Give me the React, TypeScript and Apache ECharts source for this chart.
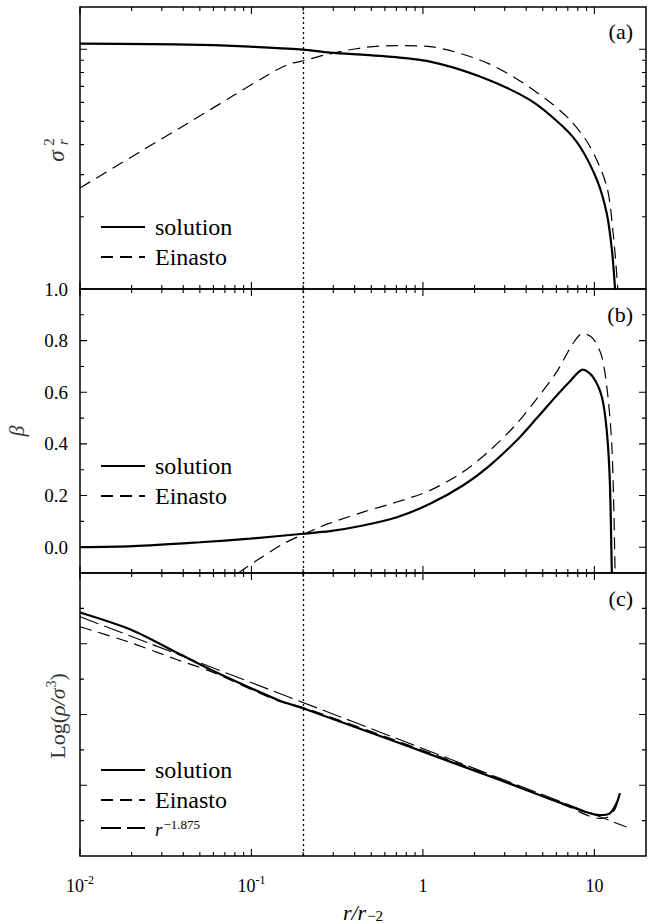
import React, { useEffect, useRef } from "react";
import * as echarts from "echarts";

// ---------- axis ranges & tick labels ----------
const X_MIN = 0.01;
const X_MAX = 20;
const X_MAJOR = [0.01, 0.1, 1, 10];
const X_MAJOR_LABELS = ["{b|10}{s|-2}", "{b|10}{s|-1}", "{b|1}", "{b|10}"];
const X_MINOR = [
  0.02, 0.03, 0.04, 0.05, 0.06, 0.07, 0.08, 0.09,
  0.2, 0.3, 0.4, 0.5, 0.6, 0.7, 0.8, 0.9,
  2, 3, 4, 5, 6, 7, 8, 9,
];
const DOTTED_R = 0.2;

const A_MIN = 1;
const A_MAX = 15;
const A_MAJOR = [10];
const A_MINOR = [2, 3, 4, 5, 6, 7, 8, 9];

const B_MIN = -0.1;
const B_MAX = 1.0;
const B_MAJOR = [0, 0.2, 0.4, 0.6, 0.8, 1.0];
const B_MINOR = [0.1, 0.3, 0.5, 0.7, 0.9];

const C_MIN = 0;
const C_MAX = 8;
const C_MAJOR = [2, 4, 6];
const C_MINOR = [1, 3, 5, 7];

// ---------- panel (a): sigma_r^2 ----------
const A_SOL_R = [0.01, 0.0256, 0.05, 0.098, 0.2, 0.287, 0.561, 1.1, 2.15, 4.2, 6.55, 8.23, 10.35, 11.8, 12.65, 13.2, 13.4];
const A_SOL_V = [10.55, 10.5, 10.42, 10.25, 9.96, 9.68, 9.38, 8.88, 7.69, 6.15, 4.76, 3.93, 2.85, 2.07, 1.46, 1.0, 0.8];
const A_EIN_R = [0.01, 0.0233, 0.0423, 0.078, 0.117, 0.161, 0.2, 0.268, 0.447, 0.705, 1.1, 2.15, 3.35, 5.28, 7.19, 9.42, 11.8, 12.8, 13.7, 13.9];
const A_EIN_V = [2.64, 3.8, 4.9, 6.39, 7.61, 8.6, 8.94, 9.47, 10.15, 10.35, 10.25, 9.02, 7.69, 6.15, 5.08, 3.93, 2.68, 1.77, 1.0, 0.8];

// ---------- panel (b): beta ----------
const B_SOL_R = [0.01, 0.0204, 0.05, 0.098, 0.2, 0.287, 0.447, 0.705, 1.1, 1.71, 2.46, 3.53, 4.62, 6.04, 7.19, 8.57, 9.8, 11.06, 11.8, 12.3, 12.65, 12.8];
const B_SOL_V = [0.0, 0.004, 0.019, 0.033, 0.052, 0.062, 0.084, 0.116, 0.168, 0.239, 0.317, 0.414, 0.5, 0.588, 0.642, 0.688, 0.66, 0.582, 0.453, 0.259, -0.1, -0.2];
const B_EIN_R = [0.0837, 0.107, 0.153, 0.2, 0.251, 0.287, 0.447, 0.705, 1.1, 1.71, 2.46, 3.53, 4.62, 6.04, 7.5, 8.57, 9.8, 11.06, 12.0, 12.65, 13.0, 13.2];
const B_EIN_V = [-0.1, -0.052, 0.013, 0.049, 0.078, 0.093, 0.136, 0.175, 0.22, 0.291, 0.375, 0.479, 0.575, 0.68, 0.789, 0.828, 0.809, 0.737, 0.582, 0.388, 0.13, -0.1];

// ---------- panel (c): Log(rho/sigma^3) ----------
const C_SOL_R = [0.01, 0.02, 0.0373, 0.0583, 0.1428, 0.2, 0.735, 2.81, 6.89, 10.76, 12.3, 13.46, 14.1];
const C_SOL_V = [6.883, 6.389, 5.73, 5.258, 4.41, 4.175, 3.186, 2.148, 1.442, 1.159, 1.207, 1.49, 1.772];
const C_EIN_R = [0.01, 0.019, 0.0373, 0.0583, 0.1428, 0.2, 0.735, 2.81, 6.89, 10.76, 12.0, 13.2, 13.9];
const C_EIN_V = [6.482, 6.058, 5.541, 5.21, 4.382, 4.198, 3.223, 2.176, 1.414, 1.065, 1.102, 1.329, 1.668];
const C_POW_R = [0.01, 15.4];
const C_POW_V = [6.765, 0.82];

const SERIES_NAMES = ["solution", "Einasto", "r^-1.875"];

const SERIF = "Liberation Serif, Times New Roman, DejaVu Serif, serif";

const pairs = (xs: number[], ys: number[]) => xs.map((x, i) => [x, ys[i]]);
const lg = (v: number) => Math.log10(v);

const CHART_W = 659;
const CHART_H = 923;
const PANELS = [
  { left: 80, right: 13, top: 7, height: 282 },
  { left: 80, right: 13, top: 289, height: 284 },
  { left: 80, right: 13, top: 573, height: 283 },
];
const PLOT_W = CHART_W - 80 - 13;

const Y_RANGES = [
  { min: A_MIN, max: A_MAX, major: A_MAJOR, minor: A_MINOR, log: true },
  { min: B_MIN, max: B_MAX, major: B_MAJOR, minor: B_MINOR, log: false },
  { min: C_MIN, max: C_MAX, major: C_MAJOR, minor: C_MINOR, log: false },
];

const MAJOR_LEN = 7;
const MINOR_LEN = 4;
const GAP = ["-", "-"];

function labelAxis(gridIndex: number, position: string, min: number, max: number, label?: any) {
  return {
    type: "value",
    gridIndex,
    position,
    min,
    max,
    silent: true,
    axisLine: { show: false, onZero: false },
    splitLine: { show: false },
    axisTick: { show: false },
    axisLabel: label ? label : { show: false },
    axisPointer: { show: false },
  };
}

// Tick marks as broken polylines in each panel's own data coordinates.
function tickData(p: number) {
  const yr = Y_RANGES[p];
  const H = PANELS[p].height;
  const yStep = (from: number, px: number) =>
    yr.log ? from * Math.pow(10, (px * (lg(yr.max) - lg(yr.min))) / H) : from + (px * (yr.max - yr.min)) / H;
  const xStep = (from: number, px: number) => from * Math.pow(10, (px * (lg(X_MAX) - lg(X_MIN))) / PLOT_W);
  const xs: any[] = [];
  const xt: [number, number][] = [
    ...X_MAJOR.map((v) => [v, MAJOR_LEN] as [number, number]),
    ...X_MINOR.map((v) => [v, MINOR_LEN] as [number, number]),
  ];
  for (const [v, len] of xt) {
    xs.push([v, yr.min], [v, yStep(yr.min, len)], GAP);
    xs.push([v, yr.max], [v, yStep(yr.max, -len)], GAP);
  }
  const ys: any[] = [];
  const yt: [number, number][] = [
    ...yr.major.map((v) => [v, MAJOR_LEN] as [number, number]),
    ...yr.minor.map((v) => [v, MINOR_LEN] as [number, number]),
  ];
  for (const [v, len] of yt) {
    ys.push([X_MIN, v], [xStep(X_MIN, len), v], GAP);
    ys.push([X_MAX, v], [xStep(X_MAX, -len), v], GAP);
  }
  return { xs, ys };
}

function buildOption() {
  const grids: any[] = [];
  const xAxes: any[] = [];
  const yAxes: any[] = [];
  const xDataIdx: number[] = [];
  const yDataIdx: number[] = [];

  for (let p = 0; p < 3; p++) {
    const g0 = grids.length;
    grids.push({ ...PANELS[p], show: true, borderColor: "#000", borderWidth: 1.5, backgroundColor: "transparent" });
    grids.push({ ...PANELS[p], show: false });
    const gLab = g0 + 1;

    xDataIdx.push(xAxes.length);
    xAxes.push({ type: "log", logBase: 10, gridIndex: g0, min: X_MIN, max: X_MAX, show: false, axisLine: { show: false, onZero: false } });
    yDataIdx.push(yAxes.length);
    if (p === 0) {
      yAxes.push({ type: "log", logBase: 10, gridIndex: g0, min: A_MIN, max: A_MAX, show: false, axisLine: { show: false, onZero: false } });
    } else {
      yAxes.push({ type: "value", gridIndex: g0, min: Y_RANGES[p].min, max: Y_RANGES[p].max, show: false, axisLine: { show: false, onZero: false } });
    }

    const bottomLabel =
      p === 2
        ? {
            show: true,
            customValues: X_MAJOR.map(lg),
            margin: 17,
            formatter: (v: number) => {
              const i = X_MAJOR.findIndex((m) => Math.abs(lg(m) - v) < 1e-6);
              return i >= 0 ? X_MAJOR_LABELS[i] : "";
            },
            rich: {
              b: { fontFamily: SERIF, fontSize: 18, color: "#000", verticalAlign: "bottom", lineHeight: 22 },
              s: { fontFamily: SERIF, fontSize: 12, color: "#000", verticalAlign: "bottom", lineHeight: 22, padding: [0, 0, 9, 0] },
            },
          }
        : undefined;
    xAxes.push(labelAxis(gLab, "bottom", lg(X_MIN), lg(X_MAX), bottomLabel));

    const yr = Y_RANGES[p];
    const leftLabel =
      p === 1
        ? {
            show: true,
            customValues: B_MAJOR,
            margin: 12,
            formatter: (v: number) => v.toFixed(1),
            fontFamily: SERIF,
            fontSize: 19,
            color: "#000",
          }
        : undefined;
    yAxes.push(labelAxis(gLab, "left", yr.log ? lg(yr.min) : yr.min, yr.log ? lg(yr.max) : yr.max, leftLabel));
  }

  const solidStyle = { color: "#000", width: 2.2, type: "solid" };
  const einStyle = { color: "#000", width: 1.2, type: [12, 7] };
  const powStyle = { color: "#000", width: 1.1, type: [20, 6] };

  const dotted = {
    silent: true,
    symbol: ["none", "none"],
    label: { show: false },
    emphasis: { disabled: true },
    lineStyle: { color: "#000", width: 1.3, type: [2, 3] },
    data: [{ xAxis: DOTTED_R }],
  };

  const mk = (name: string, p: number, data: any[], lineStyle: any, markLine?: any) => ({
    type: "line",
    name,
    xAxisIndex: xDataIdx[p],
    yAxisIndex: yDataIdx[p],
    data,
    symbol: "none",
    showSymbol: false,
    smooth: 0.3,
    clip: true,
    lineStyle,
    itemStyle: { color: "#000" },
    emphasis: { disabled: true },
    silent: true,
    z: 3,
    ...(markLine ? { markLine } : {}),
  });

  const tickSeries = (p: number, data: any[], id: string) => ({
    type: "line",
    id,
    name: id,
    xAxisIndex: xDataIdx[p],
    yAxisIndex: yDataIdx[p],
    data,
    symbol: "none",
    showSymbol: false,
    smooth: false,
    connectNulls: false,
    clip: false,
    lineStyle: { color: "#000", width: 1.1, type: "solid" },
    itemStyle: { color: "#000" },
    emphasis: { disabled: true },
    silent: true,
    z: 4,
  });

  const series: any[] = [
    mk(SERIES_NAMES[0], 0, pairs(A_SOL_R, A_SOL_V), solidStyle, dotted),
    mk(SERIES_NAMES[1], 0, pairs(A_EIN_R, A_EIN_V), einStyle),
    mk(SERIES_NAMES[0], 1, pairs(B_SOL_R, B_SOL_V), solidStyle, dotted),
    mk(SERIES_NAMES[1], 1, pairs(B_EIN_R, B_EIN_V), einStyle),
    mk(SERIES_NAMES[0], 2, pairs(C_SOL_R, C_SOL_V), solidStyle, dotted),
    mk(SERIES_NAMES[1], 2, pairs(C_EIN_R, C_EIN_V), einStyle),
    mk(SERIES_NAMES[2], 2, pairs(C_POW_R, C_POW_V), powStyle),
  ];
  for (let p = 0; p < 3; p++) {
    const t = tickData(p);
    series.push(tickSeries(p, t.xs, `xticks${p}`));
    series.push(tickSeries(p, t.ys, `yticks${p}`));
  }

  const legendBase = {
    orient: "vertical",
    left: 100,
    padding: 0,
    itemWidth: 44,
    itemHeight: 14,
    itemGap: 6,
    selectedMode: false,
    itemStyle: { opacity: 0 },
    textStyle: {
      fontFamily: SERIF,
      fontSize: 24,
      color: "#000",
      padding: [0, 0, 0, 5],
      rich: {
        i: { fontFamily: SERIF, fontStyle: "italic", fontSize: 19, color: "#000", verticalAlign: "bottom", lineHeight: 22 },
        s: { fontFamily: SERIF, fontSize: 13, color: "#000", verticalAlign: "bottom", lineHeight: 22, padding: [0, 0, 8, 1] },
      },
    },
    formatter: (name: string) => (name === "r^-1.875" ? "{i|r}{s|−1.875}" : name),
  };

  const legends = [
    { ...legendBase, top: 215, data: [SERIES_NAMES[0], SERIES_NAMES[1]] },
    { ...legendBase, top: 454, data: [SERIES_NAMES[0], SERIES_NAMES[1]] },
    { ...legendBase, top: 758, data: [SERIES_NAMES[0], SERIES_NAMES[1], SERIES_NAMES[2]] },
  ];

  const txt = (text: string, x: number, y: number, size: number, italic = false, align = "center", fill = "#000") => ({
    type: "text",
    x,
    y,
    silent: true,
    style: {
      text,
      fontFamily: SERIF,
      fontSize: size,
      fontStyle: italic ? "italic" : "normal",
      fill,
      align,
      verticalAlign: "middle",
      textAlign: align,
      textVerticalAlign: "middle",
    },
  });

  const LABEL_GREY = "#333";

  const graphic: any[] = [
    txt("(a)", 633, 31, 22, false, "right"),
    txt("(b)", 633, 314, 22, false, "right"),
    txt("(c)", 633, 598, 22, false, "right"),
    {
      type: "group",
      x: 56,
      y: 150,
      rotation: Math.PI / 2,
      silent: true,
      children: [
        txt("σ", -6, 0, 23, true, "center", LABEL_GREY),
        txt("2", 8, -7, 15, false, "center", LABEL_GREY),
        txt("r", 8, 7, 15, true, "center", LABEL_GREY),
      ],
    },
    {
      type: "group",
      x: 16,
      y: 431,
      rotation: Math.PI / 2,
      silent: true,
      children: [txt("β", 0, 0, 22, true, "center", LABEL_GREY)],
    },
    {
      type: "group",
      x: 55,
      y: 716,
      rotation: Math.PI / 2,
      silent: true,
      children: [
        {
          type: "text",
          x: 0,
          y: 0,
          style: {
            text: "{n|Log(}{i|ρ/σ}{p|3}{n|)}",
            align: "center",
            verticalAlign: "middle",
            textAlign: "center",
            textVerticalAlign: "middle",
            fontFamily: SERIF,
            fill: LABEL_GREY,
            rich: {
              n: { fontFamily: SERIF, fontSize: 22, fill: LABEL_GREY, color: LABEL_GREY, verticalAlign: "bottom", lineHeight: 26 },
              i: { fontFamily: SERIF, fontStyle: "italic", fontSize: 22, fill: LABEL_GREY, color: LABEL_GREY, verticalAlign: "bottom", lineHeight: 26 },
              p: { fontFamily: SERIF, fontSize: 14, fill: LABEL_GREY, color: LABEL_GREY, verticalAlign: "bottom", lineHeight: 26, padding: [0, 0, 10, 1] },
            },
          },
        },
      ],
    },
    {
      type: "text",
      x: 363,
      y: 910,
      silent: true,
      style: {
        text: "{i|r/r}{s|−2}",
        align: "center",
        verticalAlign: "middle",
        textAlign: "center",
        textVerticalAlign: "middle",
        fontFamily: SERIF,
        fill: "#000",
        rich: {
          i: { fontFamily: SERIF, fontStyle: "italic", fontSize: 22, fill: "#000", color: "#000", verticalAlign: "bottom", lineHeight: 26 },
          s: { fontFamily: SERIF, fontSize: 15, fill: "#000", color: "#000", verticalAlign: "bottom", lineHeight: 26, padding: [8, 0, 0, 1] },
        },
      },
    },
  ];

  return {
    animation: false,
    backgroundColor: "#fff",
    textStyle: { fontFamily: SERIF },
    grid: grids,
    xAxis: xAxes,
    yAxis: yAxes,
    legend: legends,
    series,
    graphic,
  };
}

export default function App() {
  const ref = useRef<HTMLDivElement | null>(null);
  useEffect(() => {
    if (!ref.current) return;
    const chart = echarts.init(ref.current, undefined, { renderer: "svg" });
    chart.setOption(buildOption() as any);
    return () => chart.dispose();
  }, []);
  return (
    <div
      ref={ref}
      style={{ position: "fixed", left: 0, top: 0, width: CHART_W, height: CHART_H, background: "#fff" }}
    />
  );
}
